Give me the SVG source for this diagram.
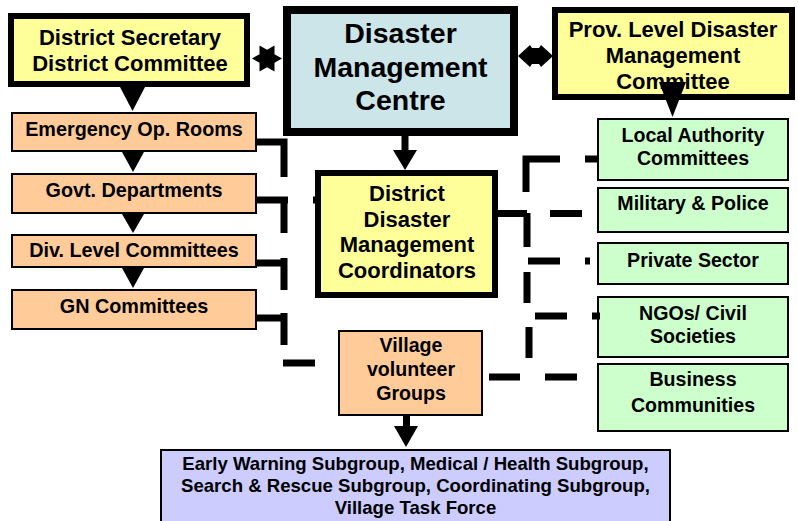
<svg xmlns="http://www.w3.org/2000/svg" width="798" height="521" viewBox="0 0 798 521">
<style>
text{font-family:"Liberation Sans",Arial,sans-serif;font-weight:bold;fill:#000;text-anchor:middle}
.thick{stroke:#000;stroke-width:6}
.thin{stroke:#000;stroke-width:2}
.yellow{fill:#FFFF99}
.blue{fill:#CCE5E8}
.orange{fill:#FFCC99}
.green{fill:#CCFFCC}
.lav{fill:#CCCCFF}
.f22{font-size:22px}
.f29{font-size:28.5px}
.f20{font-size:19.8px}
.fg{font-size:19.6px}
.fl{font-size:18.6px}
.dash{fill:none;stroke:#000;stroke-width:7;stroke-linecap:butt;stroke-linejoin:miter}
.head{fill:#000}
</style>
<g id="nodes">
<g id="ds"><rect class="yellow thick" x="11" y="16" width="236" height="68"/><text class="f22" x="130" y="45">District Secretary</text><text class="f22" x="130" y="70.5">District Committee</text></g>
<g id="dmc"><rect class="blue" x="287" y="10" width="227" height="122" stroke="#000" stroke-width="8"/><text class="f29" x="400.5" y="43">Disaster</text><text class="f29" x="400.5" y="77">Management</text><text class="f29" x="400.5" y="110">Centre</text></g>
<g id="prov"><rect class="yellow thick" x="555" y="10" width="237" height="87"/><text class="f22" x="673" y="37">Prov. Level Disaster</text><text class="f22" x="673" y="63">Management</text><text class="f22" x="673" y="89">Committee</text></g>
<g id="eor"><rect class="orange thin" x="12" y="113" width="244" height="38"/><text class="f20" x="134" y="136">Emergency Op. Rooms</text></g>
<g id="govt"><rect class="orange thin" x="12" y="174" width="244" height="39"/><text class="f20" x="134" y="197">Govt. Departments</text></g>
<g id="div"><rect class="orange thin" x="12" y="235" width="244" height="32"/><text class="f20" x="134" y="257">Div. Level Committees</text></g>
<g id="gn"><rect class="orange thin" x="12" y="290" width="244" height="39"/><text class="f20" x="134" y="313">GN Committees</text></g>
<g id="ddmc"><rect class="yellow thick" x="318" y="173" width="177" height="122"/><text class="f22" x="407" y="201">District</text><text class="f22" x="407" y="226.5">Disaster</text><text class="f22" x="407" y="252">Management</text><text class="f22" x="407" y="277.5">Coordinators</text></g>
<g id="la"><rect class="green thin" x="598" y="119" width="190" height="61"/><text class="fg" x="693" y="142">Local Authority</text><text class="fg" x="693" y="165">Committees</text></g>
<g id="mp"><rect class="green thin" x="598" y="188" width="190" height="44"/><text class="fg" x="693" y="210">Military &amp; Police</text></g>
<g id="ps"><rect class="green thin" x="598" y="243" width="190" height="41"/><text class="fg" x="693" y="267">Private Sector</text></g>
<g id="ngo"><rect class="green thin" x="598" y="297" width="190" height="60"/><text class="fg" x="693" y="320">NGOs/ Civil</text><text class="fg" x="693" y="343">Societies</text></g>
<g id="bus"><rect class="green thin" x="598" y="364" width="190" height="67"/><text class="fg" x="693" y="386">Business</text><text class="fg" x="693" y="412">Communities</text></g>
<g id="village"><rect class="orange thin" x="339" y="331" width="143" height="84"/><text class="fg" x="411" y="352">Village</text><text class="fg" x="411" y="376">volunteer</text><text class="fg" x="411" y="400">Groups</text></g>
<g id="sub"><rect class="lav thin" x="161" y="450" width="509" height="74"/><text class="fl" x="415.5" y="470">Early Warning Subgroup, Medical / Health Subgroup,</text><text class="fl" x="415.5" y="492">Search &amp; Rescue Subgroup, Coordinating Subgroup,</text><text class="fl" x="415.5" y="514">Village Task Force</text></g>
</g>
<g id="connectors">
<polygon class="head" points="282,58.5 274.5,54.17 274.5,45.5 267,49.84 259.5,45.5 259.5,54.17 252,58.5 259.5,62.83 259.5,71.49 267,67.16 274.5,71.49 274.5,62.83"/>
<polygon class="head" points="518,56 530,45 532,48 539,48 541,45 553,56 541,67 539,64 532,64 530,67"/>
<polygon class="head" points="120,87 145,87 132.5,111"/>
<polygon class="head" points="122,152 144,152 133,172"/>
<polygon class="head" points="122,214 144,214 133,233"/>
<polygon class="head" points="122,268 144,268 133,288"/>
<rect class="head" x="401.5" y="134" width="7" height="17"/>
<polygon class="head" points="393,150 417,150 405,170"/>
<polygon class="head" points="659,82 686,82 672.5,117"/>
<rect class="head" x="403" y="414" width="7" height="13"/>
<polygon class="head" points="394,426 418,426 406,447"/>
<path class="dash" d="M257,142H284V177M257,200H288M284,200V233M313,200H318M257,263H284M284,258V290M257,318H284M284,313V345M283,363H315"/>
<path class="dash" d="M560,159H526V192M585,159H597M498,213.5H527M527,213V247M550,213.5H582M528,261H560M585,261H590M527,272V303M535,316H567M592,316H600M529,327V358M489,377H520M545,377H577"/>
</g>
</svg>
